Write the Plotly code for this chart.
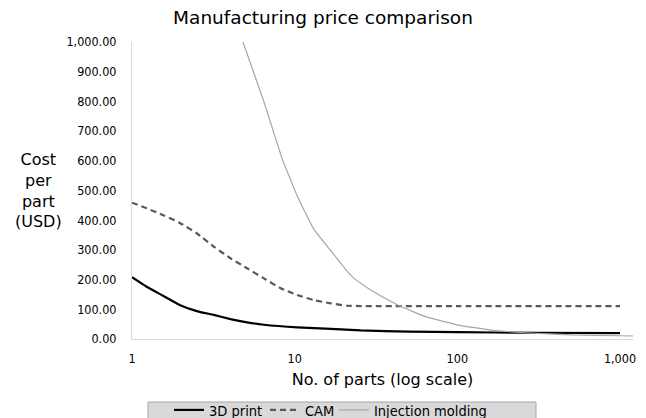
import plotly.graph_objects as go

# Data
print_x = [1, 1.23, 1.56, 1.98, 2.5, 3.18, 4.03, 5.1, 6.47, 10.4, 16.7, 25.5, 50, 100, 300, 1000]
print_y = [208, 176, 145, 114, 94, 81, 67, 56, 48, 39, 34, 29, 25, 23, 21, 20]

cam_x = [1, 1.23, 1.56, 1.98, 2.5, 3.18, 4.03, 5.1, 6.47, 8.2, 10.4, 13.1, 16.7, 21.1, 25.5, 100, 1000]
cam_y = [459, 440, 417, 390, 356, 311, 272, 238, 204, 171, 148, 131, 120, 112, 111, 111, 111]

inj_x = [4.6, 4.76, 6.47, 8.43, 10.4, 13.1, 16.7, 21.2, 23.2, 28.1, 37.4, 44, 63, 101, 163, 260, 500, 1000, 1240]
inj_y = [1030, 1007, 799, 603, 480, 370, 297, 226, 204, 172, 132, 112, 76, 47, 30, 21, 14, 11, 10]

x_ticks = [1, 10, 100, 1000]
x_ticktext = ["1", "10", "100", "1,000"]

FONT = "DejaVu Sans"
COND = "DejaVu Sans Condensed, DejaVu Sans"

# plot area in pixels
L, R, T, B = 132, 633, 42, 339
W, H = 646, 418


def px(xp):
    return (xp - L) / (R - L)


def py(yp):
    return (B - yp) / (B - T)


fig = go.Figure()
fig.add_trace(go.Scatter(x=print_x, y=print_y, mode="lines", name="3D print", legend="legend",
                         line=dict(color="#000000", width=2.2, shape="spline", smoothing=0.4)))
fig.add_trace(go.Scatter(x=cam_x, y=cam_y, mode="lines", name="CAM", legend="legend2",
                         line=dict(color="#595959", width=2.2, dash="6px,4px",
                                   shape="spline", smoothing=0.5)))
fig.add_trace(go.Scatter(x=inj_x, y=inj_y, mode="lines", name="Injection molding", legend="legend3",
                         line=dict(color="#a6a6a6", width=1.2, shape="spline", smoothing=0.3)))


def leg(xpix):
    return dict(orientation="h", x=xpix / W, xanchor="left", y=1 - 394 / H, yanchor="top",
                xref="container", yref="container",
                bgcolor="rgba(0,0,0,0)", borderwidth=0,
                font=dict(size=14.5, family=COND), itemwidth=30)


fig.update_layout(
    width=W, height=H,
    margin=dict(l=L, r=W - R, t=T, b=H - B, autoexpand=False),
    paper_bgcolor="white", plot_bgcolor="white",
    font=dict(family=FONT, color="#000000"),
    title=dict(text="Manufacturing price comparison", x=0.5, xanchor="center",
               y=1 - 18 / H, yanchor="middle", yref="container",
               font=dict(size=18.5, family=FONT, color="#000000")),
    xaxis=dict(type="log", range=[0, 3.08], tickvals=x_ticks, ticktext=x_ticktext,
               showgrid=False, zeroline=False, showline=True, linecolor="#d9d9d9",
               linewidth=1, ticks="", tickfont=dict(size=12.5, family=COND),
               ticklabelstandoff=8,
               title=dict(text="No. of parts (log scale)", font=dict(size=16, family=FONT),
                          standoff=8)),
    yaxis=dict(range=[0, 1000], dtick=100, tickformat=",.2f", showgrid=False,
               zeroline=False, showline=True, linecolor="#d9d9d9", linewidth=1,
               ticks="", tickfont=dict(size=12.5, family=COND), ticklabelstandoff=12),
    legend=leg(169),
    legend2=leg(265),
    legend3=leg(334),
    showlegend=True,
)

# legend box
fig.add_shape(type="rect", xref="paper", yref="paper",
              x0=px(148), x1=px(536), y0=py(422), y1=py(402),
              fillcolor="#d9d9d9", line=dict(color="#a6a6a6", width=1), layer="below")

fig.add_annotation(text="Cost<br>per<br>part<br>(USD)", xref="paper", yref="paper",
                   x=px(38), y=py(190), xanchor="center", yanchor="middle",
                   showarrow=False, font=dict(size=16, family=FONT), align="center")

fig.write_html("out.html", post_script="document.body.style.margin='0';",
               config={"displayModeBar": False})
